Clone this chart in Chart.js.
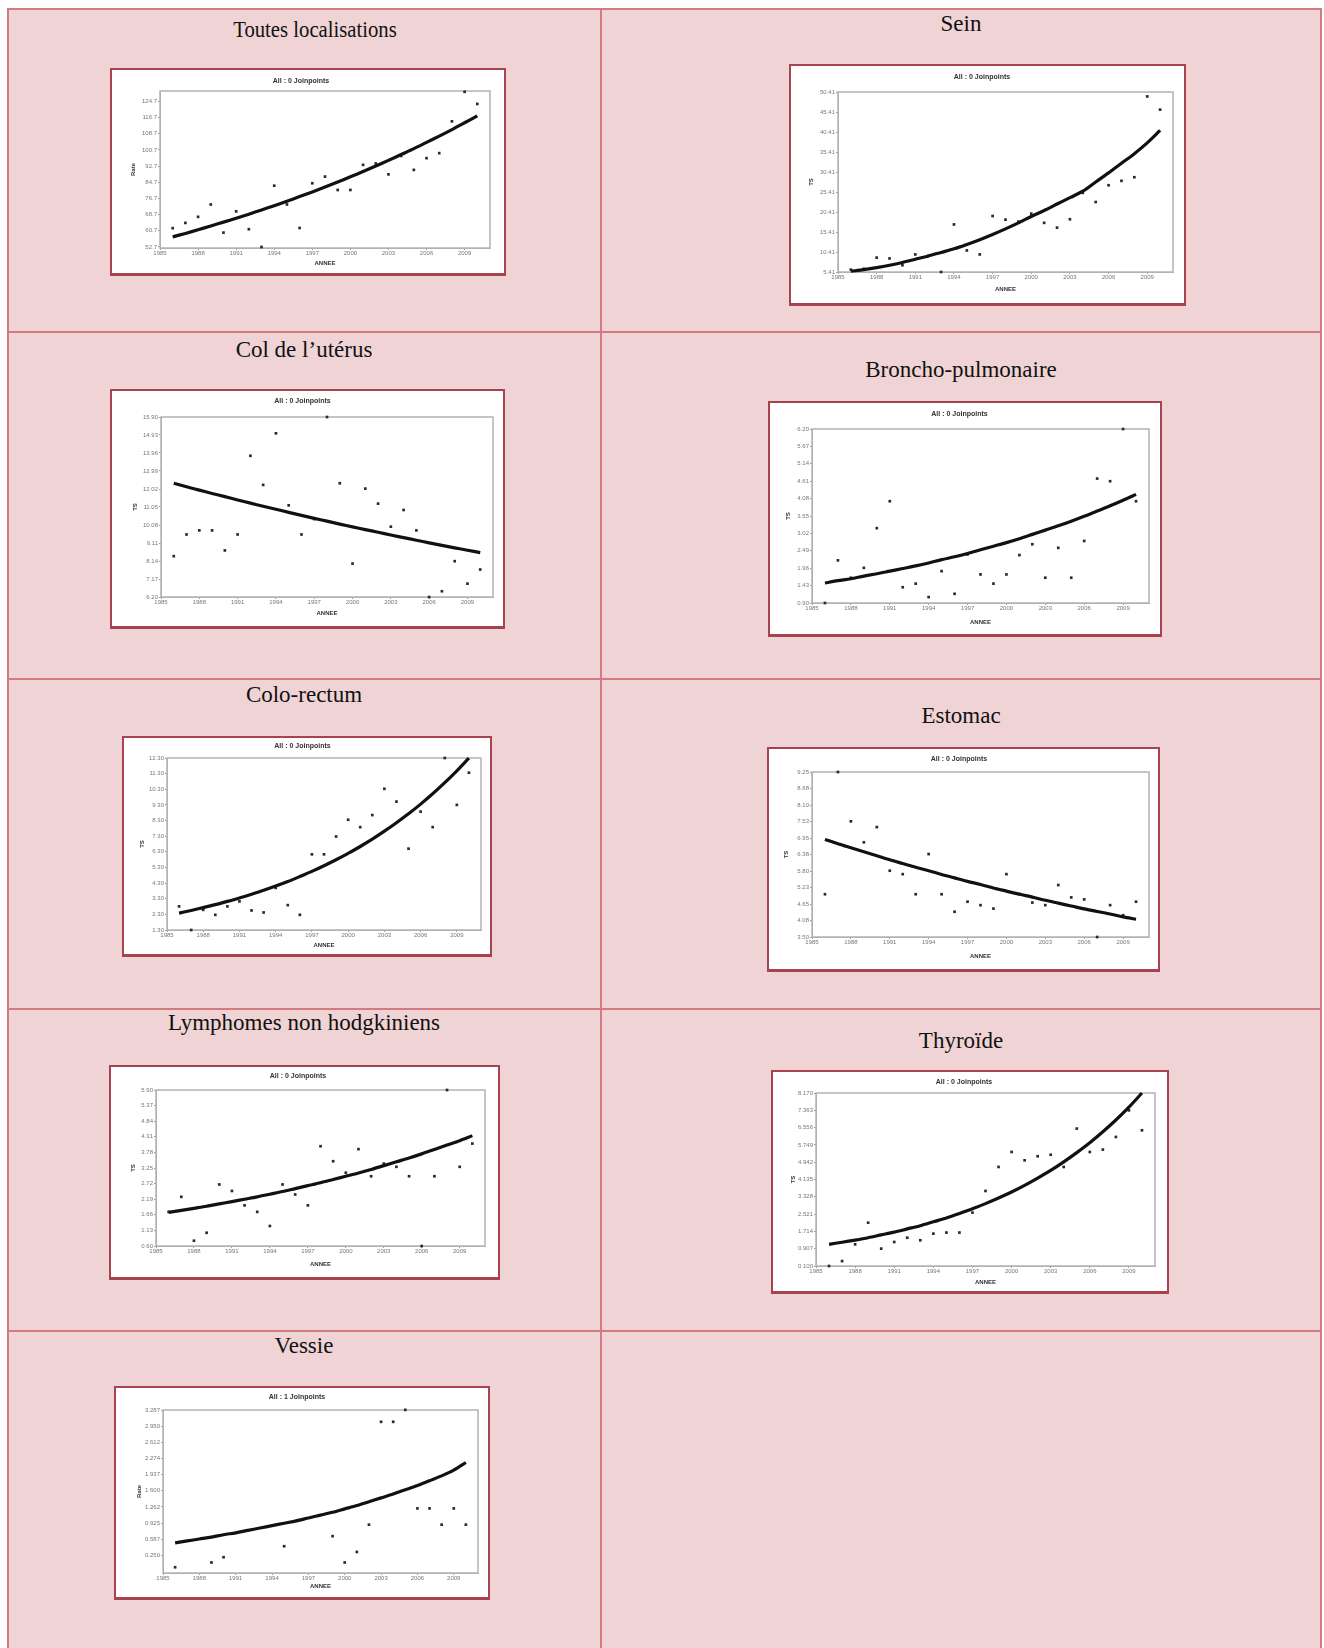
<!DOCTYPE html>
<html>
<head>
<meta charset="utf-8">
<script src="https://cdn.jsdelivr.net/npm/chart.js@4.4.0/dist/chart.umd.min.js"></script>
<style>
  body { margin: 0; background: #fff; }
  #page { position: relative; width: 1324px; height: 1648px; overflow: hidden; }
  .bg { position: absolute; background: #f0d3d4; }
  .rule { position: absolute; background: #d27a80; }
  .ttl { position: absolute; width: 560px; height: 30px; line-height: 30px; text-align: center;
         font-family: "Liberation Serif", serif; font-size: 23px; color: #111; white-space: nowrap; }
  .ttl.narrow { transform: scaleX(0.9); }
  .box { position: absolute; background: #fff; border: 2px solid #a8424e; border-bottom-width: 3px; }
  .box canvas { display: block; }
</style>
</head>
<body>
<div id="page"></div>
<script>
// years of observation, shared by every panel
const years = [1986, 1987, 1988, 1989, 1990, 1991, 1992, 1993, 1994, 1995, 1996, 1997, 1998,
               1999, 2000, 2001, 2002, 2003, 2004, 2005, 2006, 2007, 2008, 2009, 2010];
const xTickLabels = ['1985', '1988', '1991', '1994', '1997', '2000', '2003', '2006', '2009'];

const panelNames = ['Toutes localisations', 'Sein', 'Col de l\u2019utérus', 'Broncho-pulmonaire',
                    'Colo-rectum', 'Estomac', 'Lymphomes non hodgkiniens', 'Thyroïde', 'Vessie'];
const chartTitles = ['All : 0 Joinpoints', 'All : 0 Joinpoints', 'All : 0 Joinpoints', 'All : 0 Joinpoints',
                     'All : 0 Joinpoints', 'All : 0 Joinpoints', 'All : 0 Joinpoints', 'All : 0 Joinpoints',
                     'All : 1 Joinpoints'];
const yAxisTitles = ['Rate', 'TS', 'TS', 'TS', 'TS', 'TS', 'TS', 'TS', 'Rate'];
const xAxisTitle = 'ANNEE';

// observed rates (points) and fitted trend (line)
const toutesObs = [62.0, 64.6, 67.6, 73.7, 59.8, 70.3, 61.5, 52.7, 83.0, 73.7, 62.1, 84.2, 87.5,
                   80.9, 80.9, 93.3, 94.0, 88.6, 97.7, 90.8, 96.6, 99.1, 114.8, 129.4, 123.4];
const toutesFit = [57.7, 59.4, 61.2, 63.1, 65.0, 66.9, 68.9, 71.0, 73.1, 75.3, 77.6, 79.9, 82.3,
                   84.8, 87.4, 90.0, 92.7, 95.5, 98.4, 101.3, 104.4, 107.5, 110.7, 114.1, 117.5];
const toutesTicks = ['52.7', '60.7', '68.7', '76.7', '84.7', '92.7', '100.7', '108.7', '116.7', '124.7'];

const seinObs = [5.99, 6.2, 9.0, 8.8, 7.1, 9.8, 9.4, 5.41, 17.3, 10.8, 9.8, 19.4, 18.5,
                 18.0, 20.0, 17.7, 16.5, 18.6, 25.2, 22.9, 27.1, 28.2, 29.1, 49.3, 46.0];
const seinFit = [5.6, 6.0, 6.5, 7.1, 7.8, 8.6, 9.4, 10.3, 11.2, 12.3, 13.5, 14.8, 16.2,
                 17.7, 19.3, 20.8, 22.4, 24.0, 25.6, 27.9, 30.2, 32.6, 35.0, 37.7, 40.8];
const seinTicks = ['5.41', '10.41', '15.41', '20.41', '25.41', '30.41', '35.41', '40.41', '45.41', '50.41'];

const coluObs = [8.40, 9.57, 9.79, 9.79, 8.71, 9.57, 13.81, 12.24, 15.02, 11.14, 9.57, 10.40, 15.90,
                 12.33, 8.00, 12.04, 11.23, 9.99, 10.89, 9.79, 6.20, 6.51, 8.13, 6.92, 7.68];
const coluFit = [12.33, 12.14, 11.96, 11.78, 11.61, 11.43, 11.26, 11.09, 10.93, 10.76, 10.60, 10.44, 10.29,
                 10.13, 9.98, 9.83, 9.69, 9.54, 9.40, 9.26, 9.12, 8.98, 8.85, 8.72, 8.59];
const coluTicks = ['6.20', '7.17', '8.14', '9.11', '10.08', '11.05', '12.02', '12.99', '13.96', '14.93', '15.90'];

const bronchoObs = [0.90, 2.20, 1.67, 1.97, 3.18, 4.00, 1.38, 1.49, 1.08, 1.87, 1.18, 2.38, 1.77,
                    1.49, 1.77, 2.36, 2.69, 1.67, 2.58, 1.67, 2.79, 4.69, 4.61, 6.20, 4.00];
const bronchoFit = [1.51, 1.58, 1.64, 1.72, 1.79, 1.87, 1.95, 2.03, 2.12, 2.22, 2.31, 2.41, 2.52,
                    2.63, 2.74, 2.86, 2.99, 3.12, 3.25, 3.39, 3.54, 3.70, 3.86, 4.03, 4.21];
const bronchoTicks = ['0.90', '1.43', '1.96', '2.49', '3.02', '3.55', '4.08', '4.61', '5.14', '5.67', '6.20'];

const coloObs = [2.81, 1.30, 2.59, 2.27, 2.81, 3.13, 2.55, 2.42, 3.99, 2.89, 2.27, 6.14, 6.14,
                 7.28, 8.35, 7.88, 8.65, 10.33, 9.51, 6.50, 8.87, 7.88, 12.30, 9.30, 11.36];
const coloFit = [2.38, 2.55, 2.73, 2.92, 3.13, 3.35, 3.59, 3.84, 4.11, 4.40, 4.72, 5.05, 5.41,
                 5.79, 6.20, 6.64, 7.11, 7.62, 8.16, 8.73, 9.35, 10.01, 10.72, 11.48, 12.29];
const coloTicks = ['1.30', '2.30', '3.30', '4.30', '5.30', '6.30', '7.30', '8.30', '9.30', '10.30', '11.30', '12.30'];

const estoObs = [4.99, 9.25, 7.53, 6.80, 7.33, 5.81, 5.69, 4.99, 6.39, 4.99, 4.38, 4.73, 4.61,
                 4.49, 5.69, 5.00, 4.70, 4.61, 5.31, 4.88, 4.81, 3.50, 4.61, 4.26, 4.73];
const estoFit = [6.90, 6.75, 6.61, 6.47, 6.33, 6.19, 6.06, 5.93, 5.81, 5.68, 5.56, 5.44, 5.33,
                 5.21, 5.10, 4.99, 4.89, 4.78, 4.68, 4.58, 4.48, 4.39, 4.30, 4.20, 4.12];
const estoTicks = ['3.50', '4.08', '4.65', '5.23', '5.80', '6.38', '6.95', '7.53', '8.10', '8.68', '9.25'];

const lnhObs = [1.76, 2.27, 0.78, 1.05, 2.69, 2.47, 1.98, 1.76, 1.28, 2.69, 2.35, 1.98, 3.99,
                3.48, 3.09, 3.89, 2.97, 3.40, 3.29, 2.97, 0.60, 2.97, 5.90, 3.29, 4.08];
const lnhFit = [1.74, 1.81, 1.88, 1.95, 2.03, 2.11, 2.19, 2.27, 2.36, 2.45, 2.55, 2.65, 2.75,
                2.86, 2.97, 3.08, 3.20, 3.33, 3.46, 3.59, 3.73, 3.88, 4.03, 4.18, 4.35];
const lnhTicks = ['0.60', '1.13', '1.66', '2.19', '2.72', '3.25', '3.78', '4.31', '4.84', '5.37', '5.90'];

const thyObs = [0.10, 0.33, 1.11, 2.12, 0.91, 1.22, 1.42, 1.30, 1.61, 1.66, 1.66, 2.59, 3.60,
                4.72, 5.42, 5.03, 5.22, 5.29, 4.72, 6.51, 5.42, 5.53, 6.12, 7.36, 6.43];
const thyFit = [1.11, 1.21, 1.31, 1.42, 1.55, 1.68, 1.83, 1.98, 2.16, 2.34, 2.55, 2.77, 3.01,
                3.27, 3.55, 3.86, 4.20, 4.56, 4.96, 5.39, 5.85, 6.36, 6.91, 7.51, 8.17];
const thyTicks = ['0.100', '0.907', '1.714', '2.521', '3.328', '4.135', '4.942', '5.749', '6.556', '7.363', '8.170'];

const vessieObs = [0.00, null, null, 0.10, 0.21, null, null, null, null, 0.44, null, null, null,
                   0.65, 0.10, 0.32, 0.89, 3.04, 3.04, 3.29, 1.23, 1.23, 0.89, 1.23, 0.89];
const vessieFit = [0.51, 0.55, 0.59, 0.63, 0.68, 0.72, 0.77, 0.82, 0.87, 0.92, 0.97, 1.03, 1.09,
                   1.15, 1.22, 1.29, 1.37, 1.45, 1.53, 1.62, 1.71, 1.81, 1.91, 2.03, 2.19];
const vessieTicks = ['0.250', '0.587', '0.925', '1.262', '1.600', '1.937', '2.274', '2.612', '2.950', '3.287'];

const obsSeries = [toutesObs, seinObs, coluObs, bronchoObs, coloObs, estoObs, lnhObs, thyObs, vessieObs];
const fitSeries = [toutesFit, seinFit, coluFit, bronchoFit, coloFit, estoFit, lnhFit, thyFit, vessieFit];
const yTickLabels = [toutesTicks, seinTicks, coluTicks, bronchoTicks, coloTicks, estoTicks, lnhTicks, thyTicks, vessieTicks];
const yMins = [52.2, 5.41, 6.20, 0.90, 1.30, 3.50, 0.60, 0.100, -0.12];
const yMaxs = [129.8, 50.41, 15.90, 6.20, 12.30, 9.25, 5.90, 8.170, 3.287];

// page layout: [boxL, boxT, boxR, boxB, plotL, plotT, plotR, plotB, titleY, xTitleY, yTitleX]
const boxes = [
  [110, 68, 506, 276, 160, 91, 490, 248, 81, 263, 133],
  [789, 64, 1186, 306, 838, 92, 1173, 272, 77, 289, 811],
  [110, 389, 505, 629, 161, 417, 493, 597, 401, 613, 135],
  [768, 401, 1162, 637, 812, 429, 1149, 603, 414, 622, 788],
  [122, 736, 492, 957, 167, 758, 481, 930, 746, 945, 142],
  [767, 747, 1160, 972, 812, 772, 1149, 937, 759, 956, 786],
  [109, 1065, 500, 1280, 156, 1090, 485, 1246, 1076, 1264, 133],
  [771, 1070, 1169, 1294, 816, 1093, 1155, 1266, 1082, 1282, 793],
  [114, 1386, 490, 1600, 163, 1410, 478, 1573, 1397, 1586, 139]
];
const titleCenters = [[315, 30], [961, 24], [304, 350], [961, 370], [304, 695], [961, 716], [304, 1023], [961, 1041], [304, 1346]];

const page = document.getElementById('page');
function rect(cls, l, t, w, h) {
  const d = document.createElement('div');
  d.className = cls;
  d.style.left = l + 'px'; d.style.top = t + 'px';
  d.style.width = w + 'px'; d.style.height = h + 'px';
  page.appendChild(d);
  return d;
}

// table background and rules
rect('bg', 7, 8, 1315, 1640);
[7, 600, 1320].forEach(x => rect('rule', x, 8, 2, 1640));
[8, 331, 678, 1008, 1330].forEach(y => rect('rule', 7, y, 1315, 2));

panelNames.forEach((name, i) => {
  const t = document.createElement('div');
  t.className = i === 0 ? 'ttl narrow' : 'ttl';
  t.textContent = name;
  t.style.left = (titleCenters[i][0] - 280) + 'px';
  t.style.top = (titleCenters[i][1] - 15) + 'px';
  page.appendChild(t);
});

const plotFrame = {
  id: 'plotFrame',
  beforeDatasetsDraw(chart) {
    const a = chart.chartArea, ctx = chart.ctx;
    ctx.save();
    ctx.strokeStyle = '#b3b3b3';
    ctx.lineWidth = 1.5;
    ctx.strokeRect(a.left, a.top, a.right - a.left, a.bottom - a.top);
    ctx.restore();
  }
};

const FONT = 'Liberation Sans';

function drawPanel(i) {
  const [L, T, R, B, pL, pT, pR, pB, tY, xtY, ytX] = boxes[i];
  const cw = R - L - 4, ch = B - T - 5;
  const box = rect('box', L, T, cw, ch);
  const cv = document.createElement('canvas');
  cv.width = cw; cv.height = ch;
  box.appendChild(cv);

  const ox = L + 2, oy = T + 2;
  const plotL = pL - ox, plotR = pR - ox, plotT = pT - oy, plotB = pB - oy;
  const titlePadTop = tY - oy - 3.5;
  const titlePadBottom = Math.max(0, plotT - titlePadTop - 7);
  const xTitlePad = Math.max(0, (ch - (xtY - oy)) - 3);
  const yTitlePad = Math.max(0, (ytX - ox) - 3);
  const labels = yTickLabels[i];

  const obsPts = years.map((yr, k) => ({ x: yr, y: obsSeries[i][k] })).filter(p => p.y !== null);
  const fitPts = years.map((yr, k) => ({ x: yr, y: fitSeries[i][k] }));

  new Chart(cv, {
    type: 'scatter',
    data: {
      datasets: [
        { label: 'fit', data: fitPts, showLine: true, borderColor: '#111', borderWidth: 3.2,
          pointRadius: 0, tension: 0.3, clip: false },
        { label: 'obs', data: obsPts, showLine: false, pointStyle: 'rect', pointRadius: 1.9,
          backgroundColor: '#2a2a2a', borderColor: '#2a2a2a', borderWidth: 0, clip: false }
      ]
    },
    options: {
      responsive: false,
      animation: false,
      layout: { padding: { left: 0, top: 0, right: cw - plotR, bottom: 0 } },
      plugins: {
        legend: { display: false },
        tooltip: { enabled: false },
        title: {
          display: true, text: chartTitles[i], color: '#333',
          font: { family: FONT, size: 7, weight: 'bold', lineHeight: 1 },
          padding: { top: titlePadTop, bottom: titlePadBottom }
        }
      },
      scales: {
        x: {
          type: 'linear', min: 1985, max: 2011,
          afterBuildTicks: ax => { ax.ticks = xTickLabels.map(s => ({ value: parseFloat(s) })); },
          afterFit: s => { s.height = ch - plotB; },
          ticks: { autoSkip: false, maxRotation: 0, padding: 0, color: '#777',
                   font: { family: FONT, size: 6 }, callback: (v, idx) => xTickLabels[idx] },
          grid: { drawOnChartArea: false, drawTicks: true, tickLength: 2, color: '#999' },
          border: { display: true, color: '#b3b3b3' },
          title: { display: true, text: xAxisTitle, color: '#333',
                   font: { family: FONT, size: 6, weight: 'bold', lineHeight: 1 },
                   padding: { top: 0, bottom: xTitlePad } }
        },
        y: {
          type: 'linear', min: yMins[i], max: yMaxs[i],
          afterBuildTicks: ax => { ax.ticks = labels.map(s => ({ value: parseFloat(s) })); },
          afterFit: s => { s.width = plotL; },
          ticks: { autoSkip: false, padding: 1, color: '#777',
                   font: { family: FONT, size: 6 }, callback: (v, idx) => labels[idx] },
          grid: { drawOnChartArea: false, drawTicks: true, tickLength: 2, color: '#999' },
          border: { display: true, color: '#b3b3b3' },
          title: { display: true, text: yAxisTitles[i], color: '#333',
                   font: { family: FONT, size: 6, weight: 'bold', lineHeight: 1 },
                   padding: { top: yTitlePad, bottom: 0 } }
        }
      }
    },
    plugins: [plotFrame]
  });
}

for (let i = 0; i < boxes.length; i++) drawPanel(i);
</script>
</body>
</html>
